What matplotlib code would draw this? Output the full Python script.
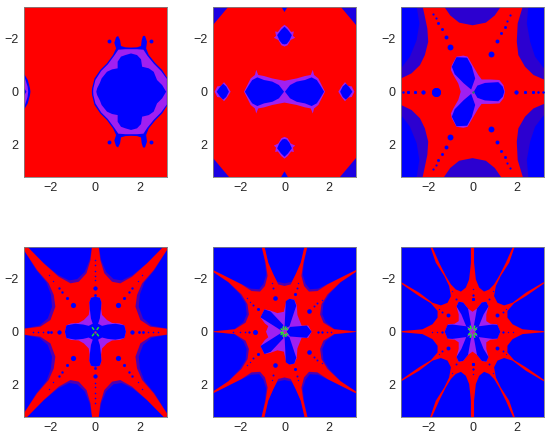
import matplotlib
matplotlib.use("Agg")
import matplotlib.pyplot as plt

# --- COLOURS ---
RED = "#ff0000"
BLUE = "#0000ff"
PURPLE = "#a020f0"
SPECK = "#2c00d0"
FRINGE = "#5000b0"
GREEN = "#20f020"

# --- DATA: region outlines (x, y in axis units) ---
# panel 1
p1_outer = [(-0.16, 0), (-0.15, -0.13), (-0.04, -0.5), (0.22, -0.82), (0.52, -1.07), (0.79, -1.38), (0.93, -1.63),
            (0.85, -1.84), (0.93, -2.05), (1.02, -2.1), (1.11, -1.94), (1.15, -1.72), (1.35, -1.67), (1.6, -1.66),
            (1.87, -1.67), (2.05, -1.72), (2.08, -1.94), (2.14, -2.1), (2.23, -2.1), (2.32, -1.88), (2.28, -1.63),
            (2.4, -1.38), (2.7, -1.07), (3.0, -0.82), (3.21, -0.54)]
p1_purple = [(-0.1, 0), (-0.09, -0.13), (0.0, -0.44), (0.26, -0.78), (0.56, -1.03), (0.85, -1.36), (1.03, -1.58),
             (1.35, -1.6), (1.6, -1.6), (1.87, -1.6), (2.16, -1.58), (2.33, -1.36), (2.63, -1.05), (2.95, -0.78),
             (3.21, -0.48)]
p1_core = [(0.04, 0), (0.08, -0.13), (0.2, -0.33), (0.28, -0.5), (0.52, -0.75), (0.75, -0.84), (1.0, -0.88),
           (1.0, -1.13), (1.15, -1.32), (1.35, -1.38), (1.6, -1.44), (1.87, -1.38), (2.05, -1.22), (2.1, -0.94),
           (2.4, -0.88), (2.62, -0.75), (2.77, -0.44), (3.0, -0.25), (3.18, 0)]
p1_left_outer = [(-3.21, -0.68), (-3.04, -0.44), (-2.94, -0.13), (-2.92, 0)]
p1_left_purple = [(-3.21, -0.62), (-3.05, -0.2), (-3.02, 0)]
p1_left_core = [(-3.21, -0.15), (-3.1, 0)]
p1_dots = [(0.63, -1.89), (2.52, -1.89)]

# panel 2
p2_corner = [(2.48, -3.21), (3.21, -3.21), (3.21, -2.51)]
p2_top_dot = [(0, -3.0), (0.15, -3.21)]
p2_top_purple = [(0, -2.52), (0.15, -2.42), (0.3, -2.25), (0.42, -2.27), (0.38, -2.1), (0.48, -2.03), (0.28, -1.95),
                 (0.14, -1.75), (0, -1.7)]
p2_top_core = [(0, -2.45), (0.15, -2.33), (0.33, -2.13), (0.22, -1.92), (0.1, -1.8), (0, -1.78)]
p2_mid_purple = [(0, -0.41), (0.55, -0.5), (0.92, -0.59), (1.18, -0.63), (1.27, -0.82), (1.33, -0.63), (1.52, -0.5),
                 (1.67, -0.25), (1.82, 0)]
p2_mid_core = [(0.02, 0), (0.25, -0.25), (0.55, -0.38), (0.92, -0.44), (1.22, -0.54), (1.45, -0.44), (1.6, -0.25),
               (1.78, 0)]
p2_side_purple = [(2.42, 0), (2.58, -0.22), (2.72, -0.36), (2.86, -0.22), (3.02, -0.2), (3.14, 0)]
p2_side_core = [(2.5, 0), (2.62, -0.2), (2.76, -0.3), (2.9, -0.18), (3.05, 0)]

# panel 3
p3_left_speck = [(-3.21, -3.21), (-2.24, -3.21), (-2.14, -2.82), (-2.03, -2.38), (-1.99, -1.88), (-2.14, -1.38),
                 (-2.36, -1.0), (-2.74, -0.69), (-3.21, -0.5)]
p3_left_solid = [(-3.21, -3.21), (-2.51, -3.21), (-2.39, -2.57), (-2.51, -1.94), (-2.81, -1.32), (-3.21, -0.88)]
p3_right_speck = [(3.21, -3.21), (2.26, -3.21), (2.03, -2.57), (1.99, -1.88), (2.06, -1.38), (2.36, -0.94),
                  (2.74, -0.63), (3.21, -0.46)]
p3_right_solid = [(3.21, -3.21), (2.51, -3.21), (2.44, -2.57), (2.59, -1.88), (2.81, -1.32), (3.21, -0.88)]
p3_top_speck = [(-1.28, -3.21), (-1.0, -2.87), (-0.6, -2.6), (0, -2.5), (0.6, -2.6), (1.0, -2.87), (1.28, -3.21)]
p3_purple = [(-0.53, 0), (-0.64, -0.31), (-0.86, -0.63), (-0.97, -0.82), (-0.93, -1.0), (-0.72, -1.32), (-0.41, -1.36),
             (-0.22, -1.32), (0.0, -1.0), (0.26, -0.63), (0.41, -0.46), (0.79, -0.46), (1.21, -0.44), (1.39, -0.25),
             (1.46, 0)]
p3_core_right = [(0.06, 0), (0.22, -0.23), (0.56, -0.33), (1.16, -0.36), (1.36, -0.19), (1.43, 0)]
p3_core_arm = [(-0.06, -0.08), (0.12, -0.5), (-0.03, -0.95), (-0.24, -1.28), (-0.72, -1.3), (-0.93, -0.94),
               (-0.8, -0.66), (-0.4, -0.32)]
p3_dots_big = [(-1.64, 0)]
p3_dots_large = [(-1.01, -1.69), (0.82, -1.42)]
p3_dots_med = [(-2.21, 0), (1.96, 0), (-1.21, -2.07), (1.1, -1.91)]
p3_dots_small = [(-2.59, 0), (-2.89, 0), (2.36, 0), (2.74, 0), (-1.39, -2.35), (-1.54, -2.57), (1.3, -2.22),
                 (1.46, -2.45)]
p3_dots_tiny = [(-3.11, 0), (2.96, 0), (3.16, 0), (-1.66, -2.76), (-1.76, -2.92), (1.57, -2.67), (1.69, -2.89)]

# panel 4
p4_star = [(0.15, -3.21), (0.22, -2.7), (0.4, -2.2), (0.75, -1.88), (1.12, -1.82), (1.65, -2.07), (2.32, -2.57),
           (3.07, -3.21), (3.21, -3.21), (3.21, -3.07), (2.62, -2.32), (2.1, -1.82), (1.87, -1.38), (1.8, -0.94),
           (2.02, -0.44), (2.47, -0.19), (3.21, -0.11)]
p4_fringe = [(0.15, -3.21), (0.26, -2.7), (0.48, -2.25), (0.82, -1.98), (1.18, -1.93), (1.68, -2.14), (2.32, -2.58),
             (3.07, -3.21), (3.21, -3.21), (3.21, -3.07), (2.66, -2.32), (2.2, -1.85), (2.0, -1.4), (1.95, -0.94),
             (2.14, -0.5), (2.52, -0.23), (3.21, -0.12)]
p4_purple = [(0, -1.32), (0.2, -1.28), (0.27, -1.1), (0.26, -0.85), (0.3, -0.63), (0.52, -0.44), (0.75, -0.33),
             (1.1, -0.31), (1.3, -0.24), (1.37, 0)]
p4_core = [(0, -1.32), (0.2, -1.28), (0.27, -1.1), (0.25, -0.85), (0.2, -0.5), (0.12, -0.3), (0.3, -0.22),
           (0.55, -0.27), (0.9, -0.3), (1.3, -0.24), (1.37, 0)]
p4_dots_big = [(1.0, -1.0)]
p4_dots_med = [(0, -1.66), (1.65, 0)]
p4_dots_mid = [(1.27, -1.25)]
p4_dots_small = [(0, -1.38), (1.5, -1.5), (1.65, -1.65), (1.98, 0), (2.13, 0)]
p4_dots_tiny = [(0, -1.95), (0, -2.1), (0, -2.3), (0, -2.5), (0, -2.7), (1.9, -1.9), (2.1, -2.15), (2.35, 0), (2.6, 0),
                (2.8, 0)]
p4_green = [(0.06, -0.07, 0.15, -0.17)]

# panel 5
p5_star = [(0, -1.72), (0.28, -1.78), (0.5, -2.16), (0.73, -2.6), (0.9, -3.21), (1.03, -3.21), (0.85, -2.6),
           (0.76, -2.1), (0.88, -1.72), (1.1, -1.51), (1.48, -1.53), (1.93, -1.78), (2.52, -2.03), (3.21, -2.32),
           (3.21, -2.25), (2.52, -1.87), (1.93, -1.4), (1.66, -1.03), (1.6, -0.65), (1.75, -0.34), (2.23, -0.09),
           (3.21, -0.01)]
p5_fringe = [(0, -1.82), (0.32, -1.88), (0.54, -2.2), (0.75, -2.6), (0.9, -3.21), (1.03, -3.21), (0.88, -2.6),
             (0.82, -2.15), (0.95, -1.8), (1.14, -1.6), (1.5, -1.62), (1.95, -1.8), (2.52, -2.03), (3.21, -2.32),
             (3.21, -2.25), (2.52, -1.85), (2.02, -1.42), (1.75, -1.06), (1.7, -0.65), (1.85, -0.36), (2.25, -0.1),
             (3.21, -0.01)]
p5_purple = [(-0.83, 0), (-0.73, -0.21), (-0.88, -0.31), (-1.08, -0.54), (-0.9, -0.84), (-0.65, -0.8), (-0.32, -0.7),
             (-0.03, -0.75), (0.08, -1.15), (0.22, -1.24), (0.44, -1.2), (0.55, -1.0), (0.58, -0.63), (0.77, -0.23),
             (1.07, -0.23), (1.22, 0)]
p5_core_right = [(0.1, 0), (0.25, -0.18), (1.0, -0.23), (1.22, 0)]
p5_core_up = [(0, -0.12), (0.06, -1.15), (0.22, -1.24), (0.44, -1.2), (0.53, -0.98), (0.22, -0.2)]
p5_core_left = [(-0.12, -0.03), (-1.08, -0.54), (-0.9, -0.84), (-0.62, -0.76), (-0.05, -0.25)]
p5_dots_big = [(-0.43, -1.25), (1.1, -0.78), (-1.33, 0)]
p5_dots_med = [(-1.21, -0.85), (0.47, -1.41)]
p5_dots_small = [(1.52, 0), (1.67, 0), (-1.58, 0), (1.33, -0.97), (1.48, -1.07), (-1.4, -0.99), (-0.5, -1.63),
                 (0.55, -1.66)]
p5_dots_tiny = [(1.9, 0), (2.1, 0), (-1.78, 0), (-2.0, 0), (-2.3, 0), (1.67, -1.19), (-1.55, -1.13), (-1.7, -1.25),
                (-0.55, -1.82), (0.61, -1.82)]
p5_green = [(-0.08, 0, -0.22, 0), (-0.08, -0.05, -0.17, -0.12), (-0.03, -0.08, -0.06, -0.2),
            (0.03, -0.08, 0.07, -0.2), (0.08, -0.06, 0.16, -0.12)]

# panel 6
p6_star = [(0.07, -3.21), (0.07, -2.6), (0.15, -1.97), (0.3, -1.66), (0.52, -1.51), (0.75, -1.59), (0.97, -1.78),
           (1.2, -2.1), (1.5, -2.6), (1.82, -3.21), (1.9, -3.21), (1.65, -2.6), (1.27, -2.1), (1.05, -1.72),
           (0.97, -1.34), (1.12, -1.09), (1.42, -0.99), (1.8, -1.09), (2.4, -1.47), (3.21, -1.87), (3.21, -1.81),
           (2.4, -1.34), (1.87, -1.07), (1.57, -0.78), (1.57, -0.53), (1.8, -0.28), (2.25, -0.09), (3.21, -0.02)]
p6_purple = [(0, -0.75), (0.2, -0.87), (0.42, -1.1), (0.62, -1.13), (0.72, -0.95), (0.62, -0.65), (0.62, -0.4),
             (0.8, -0.3), (1.1, -0.28), (1.25, 0)]
p6_core_arm = [(0.04, -0.12), (0.2, -0.87), (0.42, -1.1), (0.62, -1.13), (0.72, -0.95), (0.5, -0.65), (0.28, -0.2)]
p6_core_right = [(0.12, 0), (0.25, -0.2), (0.9, -0.27), (1.12, -0.26), (1.25, 0)]
p6_dots_big = [(1.12, -0.63)]
p6_dots_med = [(0, -1.22)]
p6_dots_small = [(0, -1.4), (0.72, -1.22), (1.39, 0), (1.35, -0.74)]
p6_dots_tiny = [(0, -1.6), (1.61, 0), (1.84, 0), (1.5, -0.84), (0.9, -1.55)]
p6_green = [(0.09, -0.05, 0.2, -0.12), (0.05, -0.1, 0.11, -0.23)]

ticks = [-2, 0, 2]
tick_labels = ["\u22122", "0", "2"]
limit = 3.2

# --- PANEL POSITIONS (pixels: left, top) ---
fig_w, fig_h = 550, 441
ax_w, ax_h = 142.4, 170
lefts = [24.2, 213.3, 401.3]
tops = [6.7, 246.7]


def mirror_y(pts):
    return pts + [(x, -y) for x, y in reversed(pts)]


def mirror_x(pts):
    return pts + [(-x, y) for x, y in reversed(pts)]


def quad(pts):
    return mirror_x(mirror_y(pts))


def flip4(pts):
    return [(sx * x, sy * y) for x, y in pts for sx in (1, -1) for sy in (1, -1)]


def both_y(pts):
    return [(x, sy * y) for x, y in pts for sy in (1, -1)]


def fill(ax, pts, color, sx=1, sy=1):
    xs = [sx * p[0] for p in pts]
    ys = [sy * p[1] for p in pts]
    ax.fill(xs, ys, color=color, lw=0)


def dots(ax, pts, size, color=BLUE):
    xs, ys = zip(*pts)
    ax.scatter(xs, ys, s=size, c=color, linewidths=0, zorder=3)


def green(ax, segs):
    for x0, y0, x1, y1 in segs:
        ax.plot([x0, x1], [y0, y1], color=GREEN, lw=1.0, solid_capstyle="butt", zorder=4)
    ax.scatter([0], [0], s=3, c="#c03080", linewidths=0, zorder=4)


plt.rcParams["font.family"] = ["Liberation Sans", "DejaVu Sans"]
fig = plt.figure(figsize=(fig_w / 100, fig_h / 100), dpi=100)

axes = []
for top in tops:
    for left in lefts:
        ax = fig.add_axes([left / fig_w, 1 - (top + ax_h) / fig_h, ax_w / fig_w, ax_h / fig_h])
        ax.set_xlim(-limit, limit)
        ax.set_ylim(limit, -limit)
        ax.set_xticks(ticks, tick_labels)
        ax.set_yticks(ticks, tick_labels)
        ax.tick_params(length=0, labelsize=9, labelcolor="#262626", pad=4)
        for s in ax.spines.values():
            s.set_color("#808080")
            s.set_linewidth(0.6)
        axes.append(ax)

# panel 1
ax = axes[0]
ax.set_facecolor(RED)
fill(ax, mirror_y(p1_outer), BLUE)
fill(ax, mirror_y(p1_purple), PURPLE)
fill(ax, mirror_y(p1_core), BLUE)
fill(ax, mirror_y(p1_left_outer), BLUE)
fill(ax, mirror_y(p1_left_purple), PURPLE)
fill(ax, mirror_y(p1_left_core), BLUE)
dots(ax, both_y(p1_dots), 8)

# panel 2
ax = axes[1]
ax.set_facecolor(RED)
for sx in (1, -1):
    for sy in (1, -1):
        fill(ax, p2_corner, "#1c00e2", sx, sy)
    fill(ax, mirror_y(p2_side_purple), PURPLE, sx)
    fill(ax, mirror_y(p2_side_core), BLUE, sx)
for sy in (1, -1):
    fill(ax, mirror_x(p2_top_dot), BLUE, 1, sy)
    fill(ax, mirror_x(p2_top_purple), PURPLE, 1, sy)
    fill(ax, mirror_x(p2_top_core), BLUE, 1, sy)
fill(ax, quad(p2_mid_purple), PURPLE)
fill(ax, mirror_y(p2_mid_core), BLUE)
fill(ax, mirror_y(p2_mid_core), BLUE, -1)

# panel 3
ax = axes[2]
ax.set_facecolor(RED)
for sy in (1, -1):
    fill(ax, p3_left_speck, SPECK, 1, sy)
    fill(ax, p3_left_solid, BLUE, 1, sy)
    fill(ax, p3_right_speck, SPECK, 1, sy)
    fill(ax, p3_right_solid, BLUE, 1, sy)
    fill(ax, p3_top_speck, SPECK, 1, sy)
fill(ax, mirror_y(p3_purple), PURPLE)
for sy in (1, -1):
    fill(ax, p3_core_arm, BLUE, 1, sy)
fill(ax, mirror_y(p3_core_right), BLUE)
dots(ax, both_y(p3_dots_big), 42)
dots(ax, both_y(p3_dots_large), 18)
dots(ax, both_y(p3_dots_med), 8)
dots(ax, both_y(p3_dots_small), 4.5)
dots(ax, both_y(p3_dots_tiny), 2.5)
ax.scatter([0], [0], s=3, c="#208060", linewidths=0, zorder=4)

# panel 4
ax = axes[3]
ax.set_facecolor(BLUE)
fill(ax, quad(p4_fringe), FRINGE)
fill(ax, quad(p4_star), RED)
fill(ax, quad(p4_purple), PURPLE)
fill(ax, quad(p4_core), BLUE)
dots(ax, flip4(p4_dots_big), 14)
dots(ax, flip4(p4_dots_med), 8)
dots(ax, flip4(p4_dots_mid), 5)
dots(ax, flip4(p4_dots_small), 3)
dots(ax, flip4(p4_dots_tiny), 1)
green(ax, [(sx * a, sy * b, sx * c, sy * d) for a, b, c, d in p4_green for sx in (1, -1) for sy in (1, -1)])

# panel 5
ax = axes[4]
ax.set_facecolor(BLUE)
fill(ax, quad(p5_fringe), FRINGE)
fill(ax, quad(p5_star), RED)
fill(ax, mirror_y(p5_purple), PURPLE)
fill(ax, mirror_y(p5_core_right), BLUE)
for sy in (1, -1):
    fill(ax, p5_core_up, BLUE, 1, sy)
    fill(ax, p5_core_left, BLUE, 1, sy)
dots(ax, both_y(p5_dots_big), 11)
dots(ax, both_y(p5_dots_med), 5)
dots(ax, both_y(p5_dots_small), 2)
dots(ax, both_y(p5_dots_tiny), 1)
green(ax, [(a, sy * b, c, sy * d) for a, b, c, d in p5_green for sy in (1, -1)])

# panel 6
ax = axes[5]
ax.set_facecolor(BLUE)
fill(ax, quad(p6_star), RED)
fill(ax, quad(p6_purple), PURPLE)
for sx in (1, -1):
    for sy in (1, -1):
        fill(ax, p6_core_arm, BLUE, sx, sy)
    fill(ax, mirror_y(p6_core_right), BLUE, sx)
dots(ax, flip4(p6_dots_big), 8)
dots(ax, flip4(p6_dots_med), 5)
dots(ax, flip4(p6_dots_small), 2)
dots(ax, flip4(p6_dots_tiny), 0.8)
green(ax, [(sx * a, sy * b, sx * c, sy * d) for a, b, c, d in p6_green for sx in (1, -1) for sy in (1, -1)])

fig.savefig("out.png", dpi=100)
